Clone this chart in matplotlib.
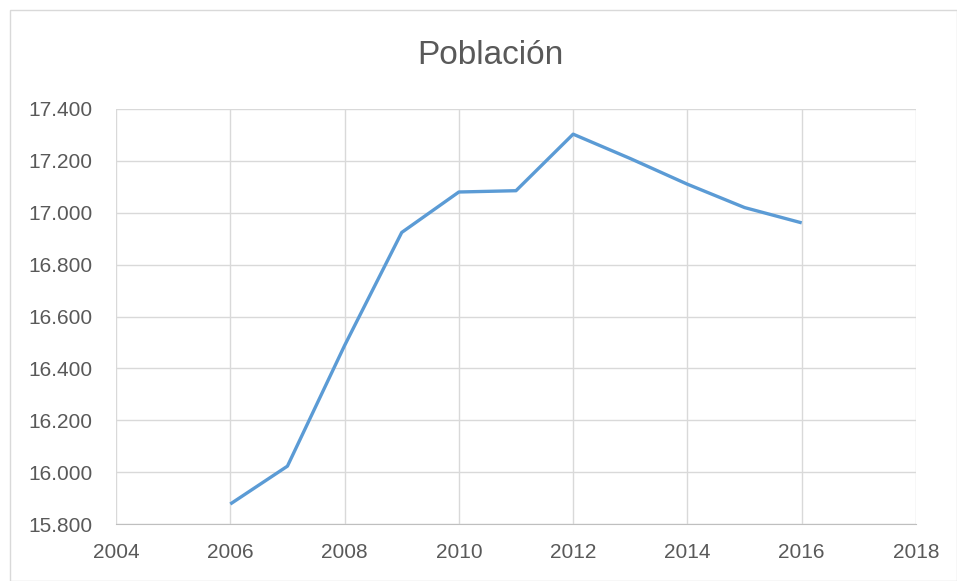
import matplotlib.pyplot as plt
from matplotlib.ticker import FuncFormatter, MultipleLocator
from matplotlib.patches import Rectangle

years = [2006, 2007, 2008, 2009, 2010, 2011, 2012, 2013, 2014, 2015, 2016]
poblacion = [15877, 16023, 16488, 16924, 17080, 17085, 17303, 17209, 17110, 17020, 16961]

plt.rcParams['font.family'] = ['Liberation Sans Narrow', 'Liberation Sans', 'DejaVu Sans']

fig = plt.figure(figsize=(9.57, 5.81), dpi=100)
ax = fig.add_axes([116/957, 1-524/581, 800/957, 415/581])

ax.plot(years, poblacion, color='#5b9bd5', linewidth=2.4, solid_capstyle='butt')

ax.set_xlim(2004, 2018)
ax.set_ylim(15800, 17400)
ax.xaxis.set_major_locator(MultipleLocator(2))
ax.yaxis.set_major_locator(MultipleLocator(200))
ax.yaxis.set_major_formatter(FuncFormatter(lambda v, p: f"{int(v):,}".replace(',', '.')))
ax.grid(True, color='#d9d9d9', linewidth=1)
ax.set_axisbelow(True)
for s in ['top', 'right', 'left']:
    ax.spines[s].set_visible(False)
ax.spines['bottom'].set_color('#bfbfbf')
ax.tick_params(length=0, labelsize=15, colors='#595959')
ax.tick_params(axis='x', pad=14)
ax.tick_params(axis='y', pad=17)

fig.text(490/957, 1-55/581, "Población", ha='center', va='center',
         fontsize=24, color='#595959')

fig.patches.append(Rectangle((10/957, 0), 947/957, 1-10/581, transform=fig.transFigure,
                             fill=False, edgecolor='#d9d9d9', linewidth=1))

fig.savefig('out.png', dpi=100)
